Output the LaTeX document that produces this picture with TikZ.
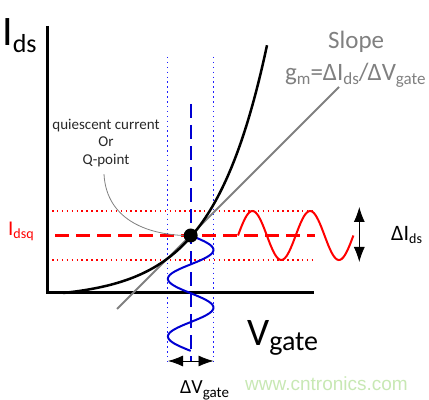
\documentclass[tikz,border=0pt]{standalone}
\usepackage{fontspec}
\setmainfont{Carlito}
\newfontfamily\webfont{Liberation Sans}
\usetikzlibrary{arrows.meta}
\newcommand{\fs}[1]{\fontsize{#1}{#1}\selectfont}
\newcommand{\lsub}[3]{\raisebox{-#2}{\fs{#1}#3}}
\definecolor{sigred}{RGB}{255,0,0}
\definecolor{sigblue}{RGB}{0,0,210}
\definecolor{dotblue}{RGB}{30,30,255}
\definecolor{slopegray}{RGB}{128,128,128}
\definecolor{notegray}{RGB}{40,40,40}
\definecolor{webgreen}{RGB}{200,232,180}

\begin{document}
\begin{tikzpicture}[x=1bp,y=1bp,
	lbl/.style={inner sep=0pt,anchor=base west},
	bigtips/.style={{Latex[length=15bp,width=11bp]}-{Latex[length=15bp,width=11bp]},line width=0.8bp},
	dotline/.style={line width=1.5bp,dash pattern=on 1.5bp off 3.4bp},
	dashline/.style={line width=2.2bp,dash pattern=on 14bp off 7bp}]
	\useasboundingbox (0,0) rectangle (429,400);

	% Points
	\coordinate (O) at (47,107);
	\coordinate (Q) at (190.7,164.5);

	% Guide lines
	\draw[dotline,sigred] (52,189) -- (315,189);
	\draw[dotline,sigred] (52,140) -- (315,140);
	\draw[dotline,dotblue] (167.7,343) -- (167.7,38);
	\draw[dotline,dotblue] (213.3,343) -- (213.3,38);
	\draw[dashline,sigred] (55,164.5) -- (315,164.5);
	\draw[dashline,sigblue] (190.7,296) -- (190.7,38);

	% Axes
	\draw[line width=3bp] (47,374) -- (O) -- (314,107);

	% Slope line
	\draw[slopegray,line width=2bp] (117,91) -- (339,313);

	% Transfer curve
	\draw[line width=2.5bp,domain=0:204,samples=80,smooth,variable=\t]
		plot ({63+\t},{107+5.83*(exp(0.0185*\t)-1)});

	% Input and output swings (period 57.7)
	\draw[sigblue,line width=2bp,domain=0:115.4,samples=80,smooth,variable=\t]
		plot ({190.7+22.8*sin(6.2392*\t)},{164.5-\t});
	\draw[sigred,line width=2bp,domain=0:115.4,samples=80,smooth,variable=\t]
		plot ({238+\t},{164.5+24.5*sin(6.2392*\t)});

	% Q-point
	\node[circle,fill,minimum size=14bp,inner sep=0pt] (qdot) at (Q) {};
	\node[align=center,inner sep=0pt,text=notegray,font={\fontsize{15bp}{17.5bp}\selectfont}]
		(qnote) at (106,257) {quiescent current\\Or\\Q-point};
	\draw[slopegray,line width=0.8bp] ([shift={(-2,-7)}]qnote.south)
		.. controls +(2,-40) and +(-45,2) .. (qdot.west);

	% Swing arrows
	\coordinate (di1) at (359.3,193);
	\coordinate (di2) at (359.3,138);
	\draw[bigtips] (di1) -- (di2);
	\coordinate (dv1) at (168,39);
	\coordinate (dv2) at (213.5,39);
	\draw[bigtips] (dv1) -- (dv2);

	% Labels
	\node[lbl] (ids) at (2,355) {\fs{42bp}I\lsub{26bp}{7bp}{ds}};
	\node[lbl] (vgate) at (247,55) {\fs{39bp}V\lsub{28bp}{5bp}{gate}};
	\node[lbl,text=slopegray] (slope) at (328,352) {\fs{25bp}Slope};
	\node[lbl,text=slopegray] (gm) at (285,320)
		{\fs{25bp}g\lsub{17bp}{4bp}{m}=ΔI\lsub{17bp}{4bp}{ds}/ΔV\lsub{17bp}{4bp}{gate}};
	\node[lbl,text=sigred] (idsq) at (8,164.3) {\fs{21bp}I\lsub{14bp}{3bp}{dsq}};
	\node[lbl] (dids) at (391,160) {\fs{22bp}ΔI\lsub{14bp}{3bp}{ds}};
	\node[lbl] (dvgate) at (180,7) {\fs{20bp}ΔV\lsub{15bp}{4bp}{gate}};
	\node[lbl,text=webgreen] (web) at (245,9.3) {\webfont\fs{19bp}www.cntronics.com};

\end{tikzpicture}
\end{document}
